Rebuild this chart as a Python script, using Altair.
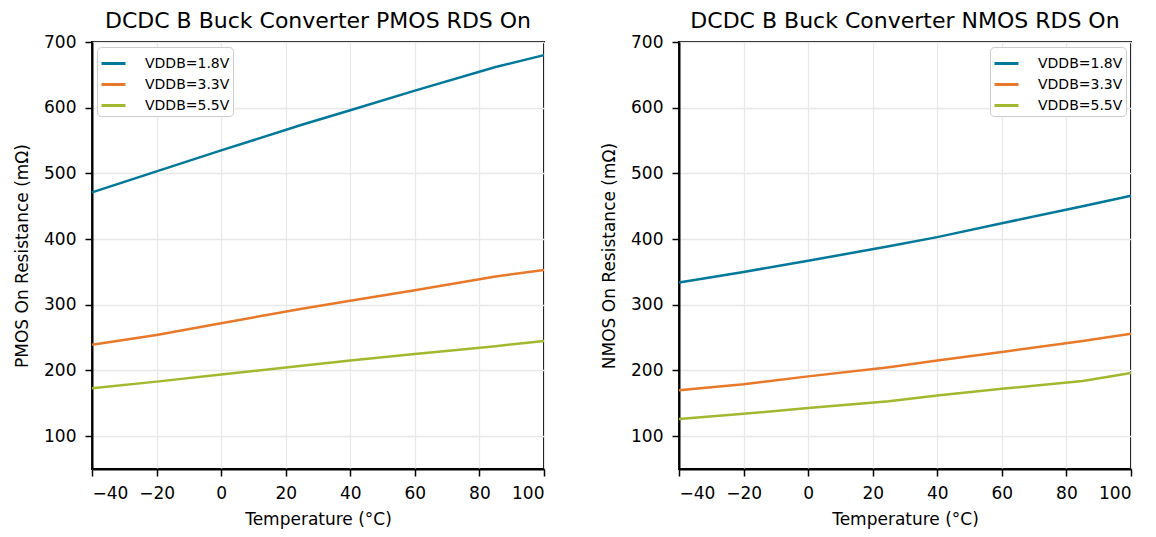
import altair as alt
import pandas as pd

temps = [-40, -20, 0, 25, 40, 60, 85, 100]
series = ["VDDB=1.8V", "VDDB=3.3V", "VDDB=5.5V"]
colors = ["#00789a", "#e8792a", "#a0b92e"]

pmos_18 = [471, 503, 535, 574, 596, 626, 662, 680]
pmos_33 = [239, 254, 272, 294, 306, 322, 343, 353]
pmos_55 = [173, 183, 194, 207, 215, 225, 237, 245]

nmos_18 = [334, 350, 367, 389, 403, 424, 450, 466]
nmos_33 = [170, 179, 191, 205, 215, 228, 245, 256]
nmos_55 = [126, 134, 143, 153, 162, 172, 184, 196]

x_ticks = [-40, -20, 0, 20, 40, 60, 80, 100]
y_ticks = [100, 200, 300, 400, 500, 600, 700]


def make_df(vals):
    rows = []
    for s, v in zip(series, vals):
        for t, r in zip(temps, v):
            rows.append({"Temperature": t, "R": r, "Series": s})
    return pd.DataFrame(rows)


def panel(df, title, ytitle, legend_orient):
    return alt.Chart(df, title=alt.TitleParams(title, fontSize=22, font="DejaVu Sans",
                                               fontWeight="normal", offset=0)).mark_line(
        strokeWidth=2.5, interpolate="linear"
    ).encode(
        x=alt.X("Temperature:Q", scale=alt.Scale(domain=[-40, 100], nice=False, zero=False),
                axis=alt.Axis(values=x_ticks, title="Temperature (°C)", labelPadding=9,
                              titlePadding=10)),
        y=alt.Y("R:Q", scale=alt.Scale(domain=[50, 700], nice=False, zero=False),
                axis=alt.Axis(values=y_ticks, title=ytitle, labelPadding=9, titlePadding=12)),
        color=alt.Color("Series:N", scale=alt.Scale(domain=series, range=colors),
                        legend=alt.Legend(title=None, orient=legend_orient, offset=5,
                                          symbolType="stroke", symbolStrokeWidth=3,
                                          symbolSize=576, labelFontSize=14,
                                          labelFont="DejaVu Sans", labelOffset=18,
                                          fillColor="white", strokeColor="#cccccc",
                                          padding=3, cornerRadius=4, rowPadding=-3)),
    ).properties(width=452, height=427)


left = panel(make_df([pmos_18, pmos_33, pmos_55]), "DCDC B Buck Converter PMOS RDS On",
             "PMOS On Resistance (mΩ)", "top-left")
right = panel(make_df([nmos_18, nmos_33, nmos_55]), "DCDC B Buck Converter NMOS RDS On",
              "NMOS On Resistance (mΩ)", "top-right")

chart = alt.hconcat(left, right, spacing=49).resolve_legend(color="independent").resolve_scale(
    color="independent"
).properties(
    padding={"left": 4, "top": 1, "right": 5, "bottom": 5}
).configure_view(
    stroke="black", strokeWidth=2
).configure_axis(
    labelFont="DejaVu Sans", titleFont="DejaVu Sans", labelFontSize=17, titleFontSize=17,
    titleFontWeight="normal", labelColor="black", titleColor="black",
    domainColor="black", domainWidth=2, tickColor="black", tickWidth=1.5, tickSize=7,
    gridColor="#e8e8e8", gridWidth=1.3
)

chart.save("out.html", embed_options={"renderer": "svg", "actions": False})
